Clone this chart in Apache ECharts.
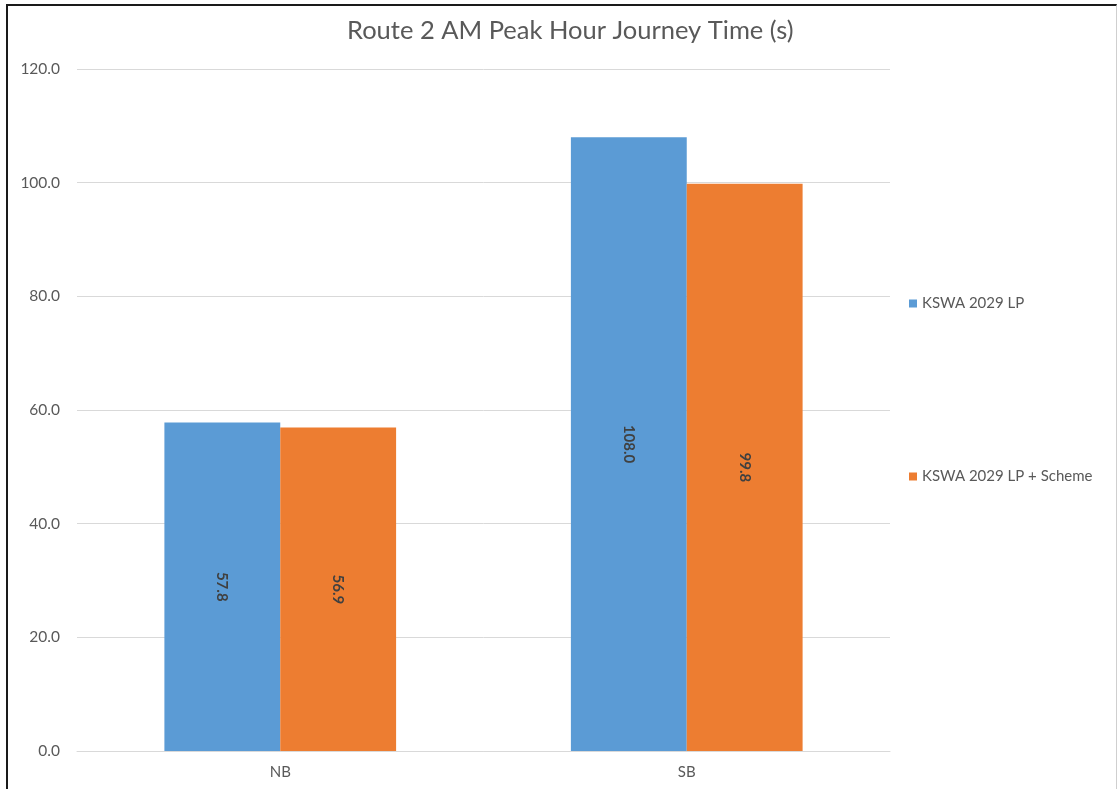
<!DOCTYPE html>
<html>
<head>
<meta charset="utf-8">
<script src="https://cdn.jsdelivr.net/npm/echarts@6/dist/echarts.min.js"></script>
<style>
  html, body { margin: 0; padding: 0; background: #fff; }
  #wrap { position: relative; width: 1120px; height: 789px; overflow: hidden; }
  #frame { position: absolute; left: 6px; top: 4px; width: 1111px; height: 800px;
           border-left: 2px solid #1a1a1a; border-top: 2px solid #1a1a1a; border-right: 1px solid #cfcfcf;
           box-sizing: border-box; pointer-events: none; z-index: 2; }
  #chart { position: absolute; left: 0; top: 0; width: 1120px; height: 789px; }
</style>
</head>
<body>
<div id="wrap">
  <div id="chart"></div>
  <div id="frame"></div>
</div>
<script>
// Journey time by direction
const categories = ['NB', 'SB'];
const seriesNames = ['KSWA 2029 LP', 'KSWA 2029 LP + Scheme'];
const baseValues = [57.8, 108.0];
const schemeValues = [56.9, 99.8];
const yTicks = [0, 20, 40, 60, 80, 100, 120];

const FONT = 'Lato, "Liberation Sans", sans-serif';
const chart = echarts.init(document.getElementById('chart'));

const valueLabel = {
  show: true,
  position: 'inside',
  rotate: -90,
  color: '#404040',
  fontSize: 15,
  fontWeight: 'bold',
  fontFamily: FONT,
  formatter: p => p.value.toFixed(1)
};

chart.setOption({
  animation: false,
  backgroundColor: '#ffffff',
  title: {
    text: 'Route 2 AM Peak Hour Journey Time (s)',
    left: 342,
    top: 13,
    textStyle: { color: '#595959', fontSize: 25.5, fontWeight: 'normal', fontFamily: FONT }
  },
  legend: {
    orient: 'vertical',
    left: 904,
    top: 291,
    itemWidth: 8,
    itemHeight: 8,
    itemGap: 158,
    icon: 'rect',
    textStyle: { color: '#595959', fontSize: 15, fontFamily: FONT },
    data: seriesNames
  },
  grid: { left: 77, right: 230, top: 69, bottom: 38, containLabel: false },
  xAxis: {
    type: 'category',
    data: categories,
    axisLine: { show: true, lineStyle: { color: '#d9d9d9', width: 1 } },
    axisTick: { show: false },
    axisLabel: { color: '#595959', fontSize: 15, fontFamily: FONT, margin: 14 }
  },
  yAxis: {
    type: 'value',
    min: yTicks[0],
    max: yTicks[yTicks.length - 1],
    interval: 20,
    axisLine: { show: false },
    axisTick: { show: false },
    splitLine: { lineStyle: { color: '#d9d9d9', width: 1 } },
    axisLabel: { color: '#595959', fontSize: 15.5, fontFamily: FONT, margin: 17, formatter: v => v.toFixed(1) }
  },
  series: [
    {
      name: seriesNames[0], type: 'bar', data: baseValues,
      itemStyle: { color: '#5b9bd5' },
      barGap: '0%', barCategoryGap: '43%',
      label: valueLabel
    },
    {
      name: seriesNames[1], type: 'bar', data: schemeValues,
      itemStyle: { color: '#ed7d31' },
      barGap: '0%', barCategoryGap: '43%',
      label: valueLabel
    }
  ]
});
</script>
</body>
</html>
